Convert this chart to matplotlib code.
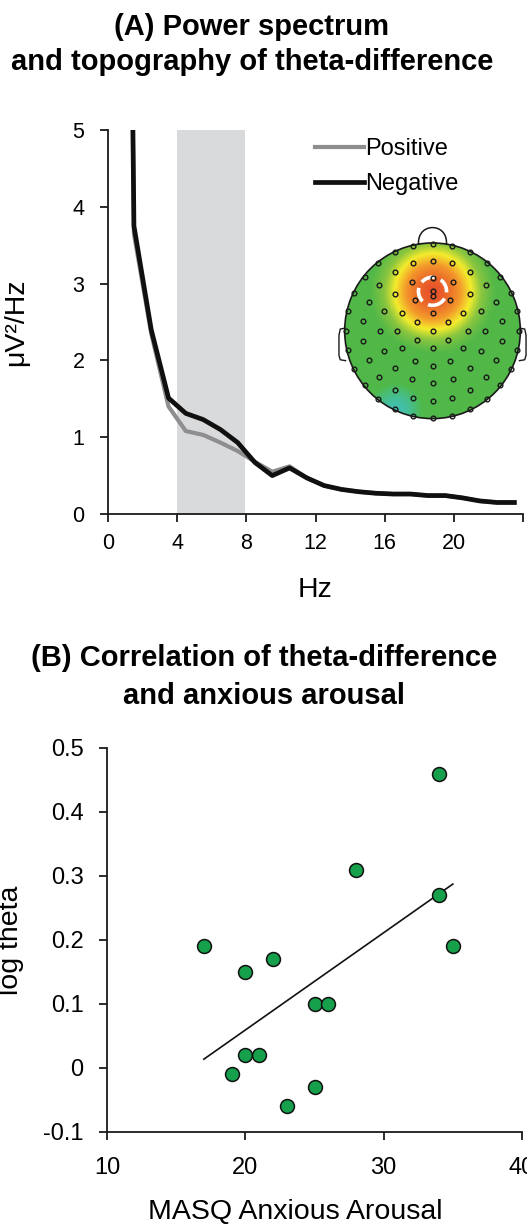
import numpy as np
import matplotlib.pyplot as plt
import matplotlib.transforms as mtransforms
from matplotlib.colors import LinearSegmentedColormap
from matplotlib.patches import Circle

plt.rcParams['font.family'] = ['Liberation Sans', 'DejaVu Sans']

# (A) power spectrum, bin centres in Hz
freqs = [0.5, 1.5, 2.5, 3.5, 4.5, 5.5, 6.5, 7.5, 8.5, 9.5, 10.5, 11.5,
         12.5, 13.5, 14.5, 15.5, 16.5, 17.5, 18.5, 19.5, 20.5, 21.5, 22.5, 23.5]
power_pos = [25.0, 3.65, 2.35, 1.40, 1.08, 1.03, 0.93, 0.82, 0.68, 0.55, 0.62, 0.47,
             0.37, 0.32, 0.29, 0.27, 0.26, 0.26, 0.24, 0.24, 0.21, 0.17, 0.15, 0.15]
power_neg = [25.0, 3.75, 2.40, 1.51, 1.31, 1.23, 1.10, 0.93, 0.67, 0.50, 0.60, 0.47,
             0.37, 0.32, 0.29, 0.27, 0.26, 0.26, 0.24, 0.24, 0.21, 0.17, 0.15, 0.15]
theta_band = [4.0, 7.9]

# topography: base level, frontal theta peak and posterior dip (head radius = 1)
topo_base = 0.42
topo_peak = (0.0, 0.45, 0.58, 0.36)    # x, y, amplitude, width
topo_dip = (-0.42, -0.9, -0.36, 0.28)
marked_electrode = (0.0, 0.45)
# electrode rings: radius, count, angular offset (deg)
electrode_rings = [(0.0, 1, 0), (0.2, 6, 90), (0.4, 12, 90), (0.6, 16, 90),
                   (0.8, 22, 90), (0.99, 28, 90)]

# (B) correlation
masq = [17, 20, 22, 25, 26, 28, 34, 34, 35, 20, 21, 19, 25, 23]
log_theta = [0.19, 0.15, 0.17, 0.10, 0.10, 0.31, 0.46, 0.27, 0.19,
             0.02, 0.02, -0.01, -0.03, -0.06]

W, H = 527, 1225
fig = plt.figure(figsize=(W / 100, H / 100), dpi=100)

def px_axes(left, top, right, bottom):
    return fig.add_axes([left / W, 1 - bottom / H, (right - left) / W, (bottom - top) / H])

# ---------- panel A ----------
fig.text(252 / W, 1 - 27 / H, '(A) Power spectrum', ha='center', va='center',
         fontsize=21, fontweight='bold')
fig.text(252 / W, 1 - 62 / H, 'and topography of theta-difference', ha='center',
         va='center', fontsize=21, fontweight='bold')

ax1 = px_axes(108, 130, 523, 514)
ax1.axvspan(theta_band[0], theta_band[1], ymax=1.003, color='#d9dadc', lw=0, zorder=0)
ax1.plot(freqs, power_pos, color='#8e8e90', lw=3.0, label='Positive', solid_joinstyle='round')
ax1.plot(freqs, power_neg, color='#101010', lw=3.4, label='Negative', solid_joinstyle='round')
ax1.set_xlim(0, 24)
ax1.set_ylim(0, 5)
ax1.set_xticks(range(0, 25, 4))
ax1.set_xticklabels(['0', '4', '8', '12', '16', '20', ''])
ax1.set_yticks(range(0, 6))
ax1.set_xlabel('Hz', fontsize=20.5)
ax1.xaxis.set_label_coords(0.5, -0.163)
ax1.set_ylabel('μV²/Hz', fontsize=20.5)
ax1.yaxis.set_label_coords(-0.19, 0.5)
leg = ax1.legend(loc='upper left', bbox_to_anchor=(0.492, 0.985), frameon=False,
                 fontsize=17, handlelength=2.1, handletextpad=0.05,
                 labelspacing=0.55, borderpad=0.1, borderaxespad=0)
shift = mtransforms.ScaledTranslation(8 / 100, 0, fig.dpi_scale_trans)
for lab in ax1.get_xticklabels():
    lab.set_transform(lab.get_transform() + shift)

# ---------- topography inset ----------
axt = px_axes(334, 221, 531, 423)
axt.set_xlim(-1.12, 1.12)
axt.set_ylim(-1.05, 1.25)
axt.set_aspect('equal')
axt.axis('off')

gx, gy = np.meshgrid(np.linspace(-1, 1, 300), np.linspace(-1, 1, 300))
field = np.full_like(gx, topo_base)
for cx, cy, amp, wd in (topo_peak, topo_dip):
    field += amp * np.exp(-((gx - cx) ** 2 + (gy - cy) ** 2) / (2 * wd ** 2))
topo_cmap = LinearSegmentedColormap.from_list(
    'topo', [(0.0, '#3cc3d6'), (0.22, '#4fb94a'), (0.5, '#52b848'), (0.6, '#8cc63f'),
             (0.7, '#f4ec2c'), (0.82, '#f39a2b'), (1.0, '#e8542a')])
img = axt.imshow(field, extent=(-1, 1, -1, 1), origin='lower', cmap=topo_cmap,
                 vmin=0, vmax=1, interpolation='bilinear')
head = Circle((0, 0), 1.0, transform=axt.transData)
img.set_clip_path(head)
axt.add_patch(Circle((0, 0), 1.0, fc='none', ec='#1a1a1a', lw=1.2))
# nose
t = np.linspace(0, np.pi, 40)
axt.plot(0.16 * np.cos(t), 0.985 + 0.19 * np.sin(t) ** 0.8, color='#1a1a1a', lw=1.1)
# ears
for s in (-1, 1):
    axt.plot([s * 0.995, s * 1.05, s * 1.065, s * 1.065, s * 1.05, s * 0.99],
             [0.03, 0.02, -0.05, -0.28, -0.33, -0.34], color='#1a1a1a', lw=1.0,
             clip_on=False)
ex, ey = [], []
for r, n, off in electrode_rings:
    ang = np.deg2rad(off + 360.0 * np.arange(n) / n)
    ex.extend(r * np.cos(ang))
    ey.extend(r * np.sin(ang))
axt.plot(ex, ey, 'o', ms=3.4, mfc='none', mec='#1a1a1a', mew=1.0)
axt.add_patch(Circle(marked_electrode, 0.16, fc='none', ec='white', lw=2.6,
                     ls=(0, (4.0, 1.8))))
axt.plot(*marked_electrode, 'o', ms=3.4, mfc='none', mec='#1a1a1a', mew=1.0)

# ---------- panel B ----------
fig.text(264 / W, 1 - 658 / H, '(B) Correlation of theta-difference', ha='center',
         va='center', fontsize=21, fontweight='bold')
fig.text(264 / W, 1 - 696 / H, 'and anxious arousal', ha='center', va='center',
         fontsize=21, fontweight='bold')

ax2 = px_axes(107, 748, 522, 1132)
slope, icpt = np.polyfit(masq, log_theta, 1)
xl = np.array([min(masq), max(masq)])
ax2.plot(xl, slope * xl + icpt, color='#111111', lw=1.2, zorder=2)
ax2.scatter(masq, log_theta, s=100, c='#16a04b', edgecolors='#111111', linewidths=1.1, zorder=3)
ax2.set_xlim(10, 40)
ax2.set_ylim(-0.1, 0.5)
ax2.set_xticks([10, 20, 30, 40])
ax2.set_yticks([-0.1, 0, 0.1, 0.2, 0.3, 0.4, 0.5])
ax2.set_yticklabels(['-0.1', '0', '0.1', '0.2', '0.3', '0.4', '0.5'])
ax2.set_xlabel('MASQ Anxious Arousal', fontsize=20.5)
ax2.xaxis.set_label_coords(0.453, -0.175)
ax2.set_ylabel('log theta', fontsize=20.5)
ax2.yaxis.set_label_coords(-0.2, 0.5)

for ax in (ax1, ax2):
    for sp in ('top', 'right'):
        ax.spines[sp].set_visible(False)
    for sp in ('left', 'bottom'):
        ax.spines[sp].set_linewidth(1.3)
        ax.spines[sp].set_color('#1a1a1a')
    ax.tick_params(direction='out', length=6, width=1.3, color='#1a1a1a')
    ax.tick_params(axis='y', pad=11)
ax1.tick_params(labelsize=15.5)
ax1.tick_params(axis='x', pad=8)
ax2.tick_params(labelsize=17)
ax2.tick_params(axis='x', pad=12)

fig.savefig('out.png', dpi=100)
